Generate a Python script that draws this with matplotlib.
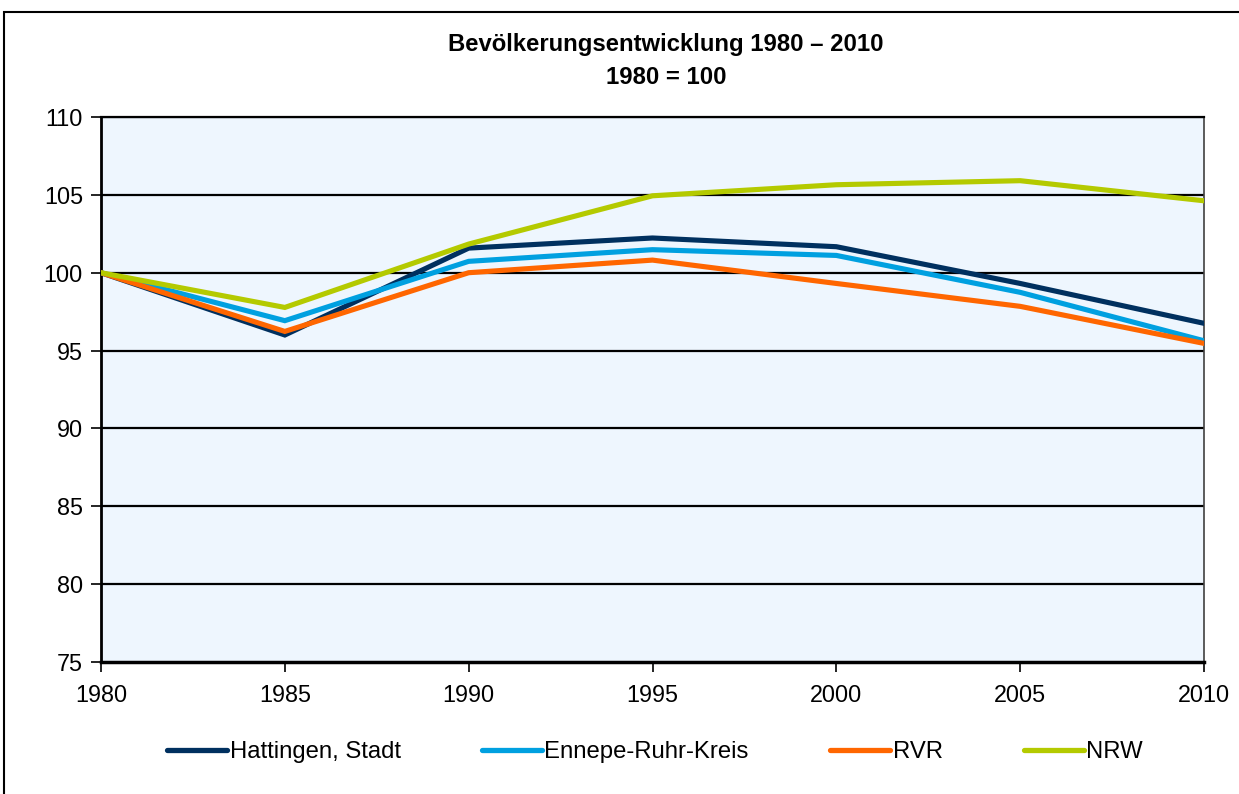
import matplotlib
matplotlib.use("Agg")
import matplotlib.pyplot as plt
from matplotlib.patches import Rectangle

plt.rcParams['font.family'] = ['Liberation Sans', 'DejaVu Sans']

years = [1980, 1985, 1990, 1995, 2000, 2005, 2010]
hattingen = [100.0, 96.0, 101.58, 102.23, 101.67, 99.31, 96.75]
ennepe = [100.0, 96.92, 100.73, 101.48, 101.11, 98.74, 95.63]
rvr = [100.0, 96.23, 100.0, 100.81, 99.31, 97.84, 95.46]
nrw = [100.0, 97.77, 101.84, 104.94, 105.65, 105.91, 104.62]

series_names = ["Hattingen, Stadt", "Ennepe-Ruhr-Kreis", "RVR", "NRW"]
colors = ["#00305F", "#00A0E0", "#FF6600", "#B4CA00"]
yticks = [75, 80, 85, 90, 95, 100, 105, 110]

W, H = 1239, 794
fig = plt.figure(figsize=(W / 100, H / 100), dpi=100)
ax = fig.add_axes([101 / W, 1 - 662 / H, (1204 - 101) / W, (662 - 117) / H])
ax.set_facecolor("#EEF6FE")

for vals, name, c in zip([hattingen, ennepe, rvr, nrw], series_names, colors):
    ax.plot(years, vals, color=c, lw=3.7, label=name, solid_joinstyle='miter', zorder=3)

ax.set_xlim(1980, 2010)
ax.set_ylim(75, 110)
ax.set_xticks(years)
ax.set_yticks(yticks)
ax.tick_params(axis='both', labelsize=16.8, direction='out', length=7, width=1.2, color='black')
ax.tick_params(axis='x', pad=9)
ax.tick_params(axis='y', pad=6)
for y in yticks[1:]:
    ax.axhline(y, color='black', lw=1.6, zorder=2)

for s in ['left', 'bottom', 'top']:
    ax.spines[s].set_color('black')
ax.spines['left'].set_linewidth(2.0)
ax.spines['bottom'].set_linewidth(2.5)
ax.spines['top'].set_linewidth(1.6)
ax.spines['right'].set_color('#404040')
ax.spines['right'].set_linewidth(1.2)

fig.text(666 / W, 1 - 45 / H, "Bevölkerungsentwicklung 1980 – 2010", ha='center', va='center',
         fontsize=17.2, fontweight='bold')
fig.text(666 / W, 1 - 77 / H, "1980 = 100", ha='center', va='center',
         fontsize=17.2, fontweight='bold')

leg = fig.legend(loc='center', bbox_to_anchor=(655 / W, 1 - 752 / H), ncol=4, frameon=False,
                 fontsize=17.2, handlelength=2.5, handletextpad=0.12, columnspacing=3.4)
for l in leg.get_lines():
    l.set_linewidth(3.8)
    l.set_solid_capstyle('round')

fig.patches.append(Rectangle((4 / W, -0.05), 1.1, 1 - 12 / H + 0.05, transform=fig.transFigure,
                             fill=False, edgecolor='black', lw=1.5))

fig.savefig("out.png", dpi=100)
